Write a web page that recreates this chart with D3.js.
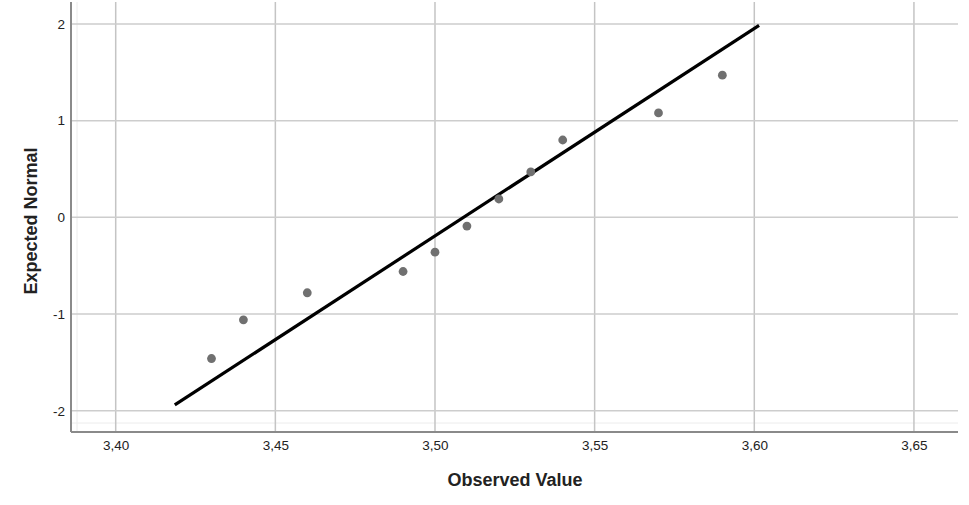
<!DOCTYPE html>
<html><head><meta charset="utf-8">
<script src="https://cdn.jsdelivr.net/npm/d3@7"></script>
<style>body{margin:0;background:#fff}svg{display:block}</style>
</head><body>
<script>
const observed = [3.43, 3.44, 3.46, 3.49, 3.50, 3.51, 3.52, 3.53, 3.54, 3.57, 3.59];
const expected = [-1.46, -1.06, -0.78, -0.56, -0.36, -0.09, 0.19, 0.47, 0.80, 1.08, 1.47];
const lineX = [3.4185, 3.6015];
const lineY = [-1.94, 1.985];
const xTicks = [3.40, 3.45, 3.50, 3.55, 3.60, 3.65];
const yTicks = [-2, -1, 0, 1, 2];

(function () {
const W = 969, H = 505;
const svg = d3.select("body").append("svg").attr("width", W).attr("height", H);
const pL = 71, pR = 958, pT = 0, pB = 432;
const x = d3.scaleLinear().domain([3.386, 3.6638]).range([pL, pR]);
const y = d3.scaleLinear().domain([-2.22, 2.248]).range([pB, pT]);
const fmt = d => d.toFixed(2).replace(".", ",");
const FF = "Liberation Sans, Arial, sans-serif";

// faint inner frame
svg.append("line").attr("x1", pL + 6).attr("x2", pL + 6).attr("y1", pT + 2).attr("y2", pB)
  .attr("stroke", "#ececec").attr("stroke-width", 1);
svg.append("line").attr("x1", pL).attr("x2", pR).attr("y1", pB - 9).attr("y2", pB - 9)
  .attr("stroke", "#ececec").attr("stroke-width", 1);

// grid
svg.append("g").selectAll("line").data(xTicks).join("line")
  .attr("x1", d => x(d)).attr("x2", d => x(d)).attr("y1", pT + 2).attr("y2", pB)
  .attr("stroke", "#c4c4c4").attr("stroke-width", 1.5);
svg.append("g").selectAll("line").data(yTicks).join("line")
  .attr("x1", pL).attr("x2", pR).attr("y1", d => y(d)).attr("y2", d => y(d))
  .attr("stroke", "#cdcdcd").attr("stroke-width", 1.5);

// axes
const xa = svg.append("g").attr("transform", `translate(0,${pB})`)
  .call(d3.axisBottom(x).tickValues(xTicks).tickFormat(fmt).tickSize(0).tickPadding(8));
xa.select(".domain").attr("stroke", "#8a8a8a").attr("stroke-width", 2).attr("d", `M${pL},0H${pR}`);
xa.selectAll("text").attr("font-family", FF).attr("font-size", 13.5).attr("fill", "#222");
const ya = svg.append("g").attr("transform", `translate(${pL},0)`)
  .call(d3.axisLeft(y).tickValues(yTicks).tickFormat(d => String(d)).tickSize(0).tickPadding(6));
ya.select(".domain").attr("stroke", "#8a8a8a").attr("stroke-width", 2).attr("d", `M0,${pT + 2}V${pB}`);
ya.selectAll("text").attr("font-family", FF).attr("font-size", 13.5).attr("fill", "#222");

// line
svg.append("line")
  .attr("x1", x(lineX[0])).attr("y1", y(lineY[0]))
  .attr("x2", x(lineX[1])).attr("y2", y(lineY[1]))
  .attr("stroke", "#000").attr("stroke-width", 3.2);

// points
svg.append("g").selectAll("circle").data(observed).join("circle")
  .attr("cx", d => x(d)).attr("cy", (d, i) => y(expected[i])).attr("r", 4.4)
  .attr("fill", "#707070");

// titles
svg.append("text").attr("x", 515).attr("y", 486).attr("text-anchor", "middle")
  .attr("font-family", FF).attr("font-size", 18).attr("font-weight", "bold")
  .attr("fill", "#222").text("Observed Value");
svg.append("text").attr("transform", `translate(37,221) rotate(-90)`).attr("text-anchor", "middle")
  .attr("font-family", FF).attr("font-size", 18).attr("font-weight", "bold")
  .attr("fill", "#222").text("Expected Normal");
})();
</script>
</body></html>
